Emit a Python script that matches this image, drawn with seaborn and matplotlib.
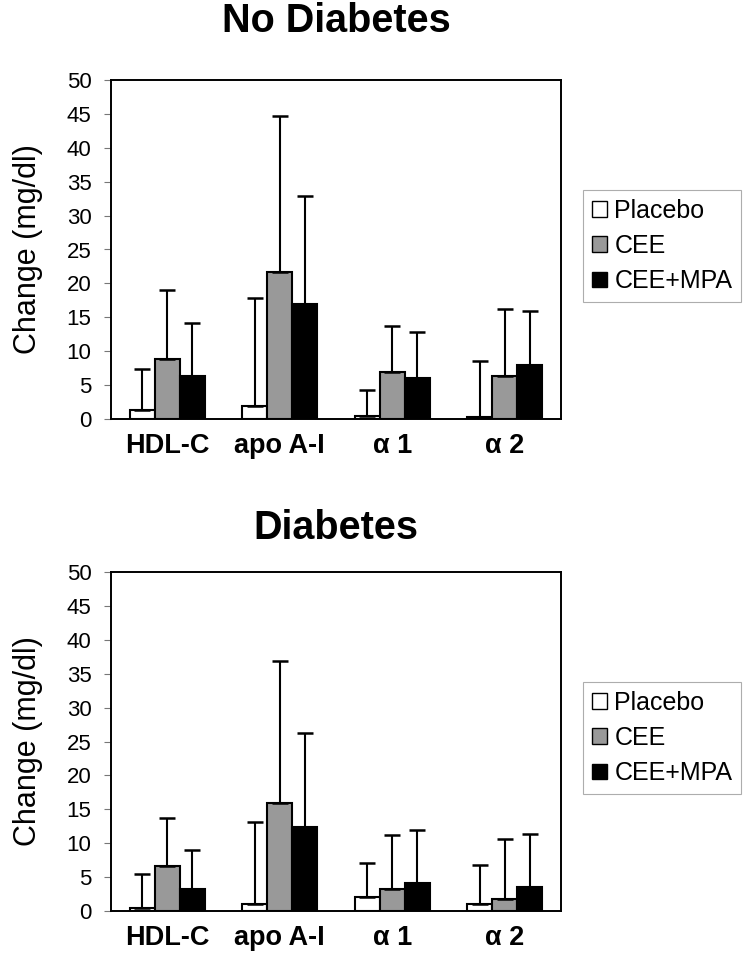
import matplotlib
matplotlib.use("Agg")
import matplotlib.pyplot as plt
import seaborn as sns
import pandas as pd
import numpy as np
from matplotlib.patches import Patch

sns.set_theme(style="white")
plt.rcParams['font.family'] = ['Liberation Sans', 'DejaVu Sans']
plt.rcParams['text.color'] = 'black'
plt.rcParams['axes.labelcolor'] = 'black'
plt.rcParams['xtick.color'] = 'black'
plt.rcParams['ytick.color'] = 'black'

categories = ["HDL-C", "apo A-I", "α 1", "α 2"]
groups = ["Placebo", "CEE", "CEE+MPA"]
colors = ["#ffffff", "#999999", "#000000"]

# No Diabetes
nd_placebo = [1.4, 1.9, 0.5, 0.3]
nd_cee = [8.8, 21.7, 6.9, 6.3]
nd_mpa = [6.4, 17.0, 6.1, 8.0]
nd_placebo_sd = [6.0, 15.9, 3.8, 8.2]
nd_cee_sd = [10.2, 23.0, 6.8, 9.9]
nd_mpa_sd = [7.8, 15.9, 6.8, 8.0]

# Diabetes
d_placebo = [0.5, 1.0, 2.1, 1.0]
d_cee = [6.6, 15.9, 3.2, 1.8]
d_mpa = [3.3, 12.4, 4.1, 3.5]
d_placebo_sd = [4.9, 12.1, 5.0, 5.8]
d_cee_sd = [7.1, 20.9, 8.0, 8.8]
d_mpa_sd = [5.7, 13.9, 7.9, 7.9]

yticks = [0, 5, 10, 15, 20, 25, 30, 35, 40, 45, 50]

panels = [
    ("No Diabetes", [nd_placebo, nd_cee, nd_mpa], [nd_placebo_sd, nd_cee_sd, nd_mpa_sd], 1.174),
    ("Diabetes", [d_placebo, d_cee, d_mpa], [d_placebo_sd, d_cee_sd, d_mpa_sd], 1.130),
]

fig = plt.figure(figsize=(7.46, 9.74), dpi=100)
ax_rects = [
    [111/746, 1 - 419/974, 450/746, 339/974],
    [111/746, 1 - 911/974, 450/746, 339/974],
]

for (title, means, sds, ty), rect in zip(panels, ax_rects):
    ax = fig.add_axes(rect)
    rows = []
    for g, vals in zip(groups, means):
        for c, v in zip(categories, vals):
            rows.append({"category": c, "group": g, "value": v})
    df = pd.DataFrame(rows)
    sns.barplot(data=df, x="category", y="value", hue="group", order=categories,
                hue_order=groups, palette=colors, width=0.667, gap=0,
                edgecolor="black", linewidth=1.5, errorbar=None, ax=ax, legend=False,
                saturation=1)
    for cont, sd in zip(ax.containers, sds):
        xs = [p.get_x() + p.get_width() / 2 for p in cont.patches]
        hs = [p.get_height() for p in cont.patches]
        ax.errorbar(xs, hs, yerr=[np.zeros(len(sd)), sd], fmt="none",
                    ecolor="black", elinewidth=1.5, capsize=6, capthick=1.8, zorder=1)
    ax.set_xlim(-0.5, 3.5)
    ax.set_ylim(0, 50)
    ax.set_yticks(yticks)
    ax.set_yticklabels([str(t) for t in yticks], fontsize=16)
    ax.set_xlabel("")
    ax.set_ylabel("Change (mg/dl)", fontsize=22, labelpad=17)
    ax.set_xticks(range(len(categories)))
    ax.set_xticklabels(categories, fontsize=19.5, fontweight="bold")
    ax.tick_params(axis="x", length=0, pad=10, labelcolor="black")
    ax.tick_params(axis="y", length=5, width=0.8, color="#777777", direction="out",
                   left=True, pad=9, labelcolor="black")
    for s in ax.spines.values():
        s.set_color("black")
        s.set_linewidth(1.4)
    ax.text(0.5, ty, title, transform=ax.transAxes, ha="center", va="center",
            fontsize=28.5, fontweight="bold", color="black")
    handles = [Patch(facecolor=c, edgecolor="black", linewidth=1.0, label=g) for g, c in zip(groups, colors)]
    leg = ax.legend(handles=handles, loc="center left", bbox_to_anchor=(1.049, 0.51),
                    fontsize=18, frameon=True, fancybox=False, handlelength=0.6,
                    handleheight=0.6, handletextpad=0.3, labelspacing=0.45,
                    borderpad=0.35, borderaxespad=0)
    leg.get_frame().set_edgecolor("#999999")
    leg.get_frame().set_linewidth(0.8)

fig.savefig("out.png", dpi=100)
